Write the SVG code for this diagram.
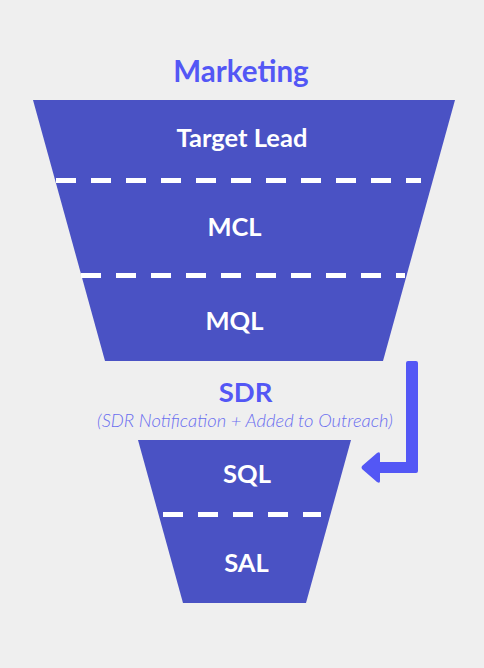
<svg xmlns="http://www.w3.org/2000/svg" width="484" height="668" viewBox="0 0 484 668">
<style>
.funnel{fill:#4a52c4}
.dash{stroke:#fff;stroke-width:5;stroke-dasharray:20 15;fill:none}
.lbl{font-family:Lato,"Open Sans",sans-serif;font-weight:700;fill:#fff;font-size:25.5px;text-anchor:middle}
.head{font-family:Lato,"Open Sans",sans-serif;font-weight:700;fill:#5357f5;text-anchor:middle}
.sub{font-family:Lato,"Open Sans",sans-serif;font-style:italic;font-weight:300;fill:#6a6ef0;font-size:18.4px;text-anchor:middle}
.conn{fill:#5357f5}
</style>
<rect width="484" height="668" fill="#efefef"/>
<text id="marketing" class="head" x="241" y="82" font-size="29.5">Marketing</text>
<g id="top-funnel">
<polygon class="funnel" points="33,100 455,100 383,361 105,361"/>
<line class="dash" x1="56" y1="180.5" x2="421" y2="180.5"/>
<line class="dash" x1="81" y1="275.5" x2="405" y2="275.5"/>
</g>
<g id="target-lead"><text class="lbl" x="242" y="147">Target Lead</text></g>
<g id="mcl"><text class="lbl" x="234.5" y="236">MCL</text></g>
<g id="mql"><text class="lbl" x="234.5" y="330">MQL</text></g>
<g id="sdr">
<text class="head" x="245.5" y="402" font-size="27.5">SDR</text>
<text class="sub" x="245" y="427">(SDR Notification + Added to Outreach)</text>
</g>
<g id="bottom-funnel">
<polygon class="funnel" points="138,440 351,440 306,603 183,603"/>
<line class="dash" x1="163" y1="514.5" x2="321" y2="514.5"/>
</g>
<g id="sql"><text class="lbl" x="247" y="483">SQL</text></g>
<g id="sal"><text class="lbl" x="246.5" y="572">SAL</text></g>
<g id="connectors">
<path class="conn" d="M408,361 H416 Q418,361 418,363 V471 Q418,473 416,473 H380 V481 Q380,484 377,482 L362,469 Q361,467.5 362,466 L377,453 Q380,451 380,454 V462 H406 V363 Q406,361 408,361 Z"/>
</g>
</svg>
